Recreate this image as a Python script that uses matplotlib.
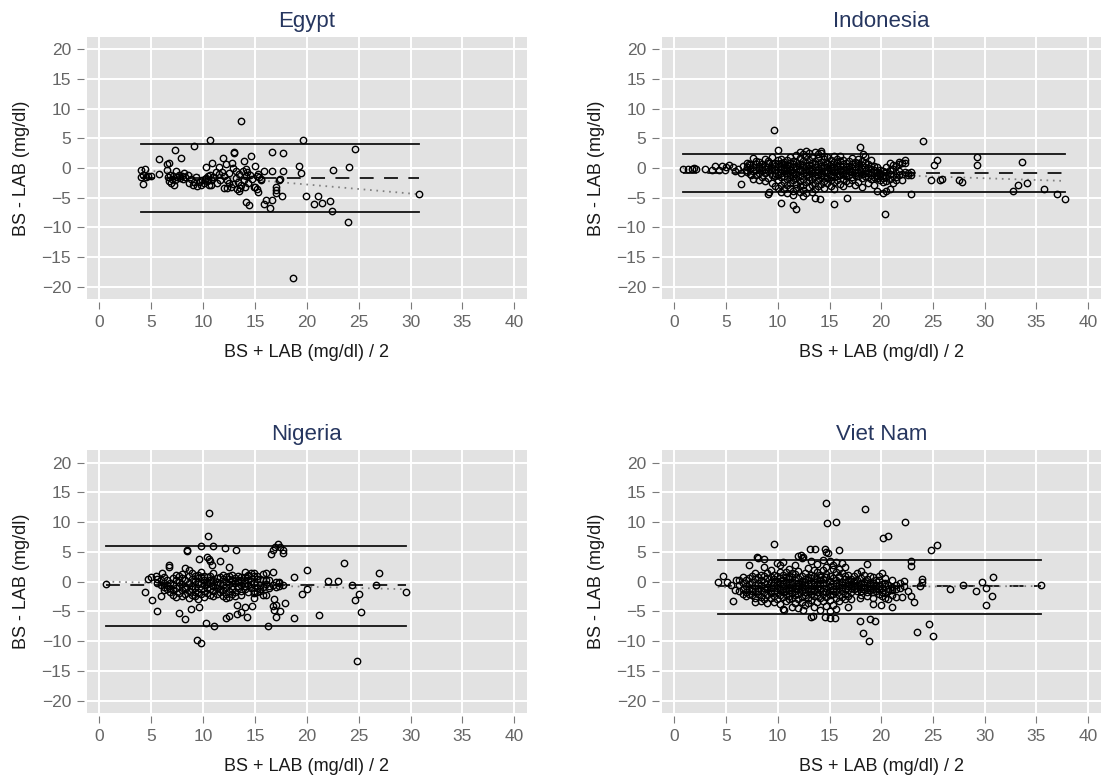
import numpy as np
import matplotlib.pyplot as plt

plt.rcParams['font.family'] = ['Liberation Sans', 'DejaVu Sans']
plt.rcParams['lines.scale_dashes'] = False

# Bland-Altman data: (mean of BS and LAB, BS - LAB)
egypt_pts = [
    (13.7, 7.9), (10.7, 4.8), (19.6, 4.8), (24.6, 3.2), (9.1, 3.7), (7.3, 3.0),
    (13.0, 2.75), (13.0, 2.5), (16.6, 2.75), (17.75, 2.6), (7.9, 1.7), (5.7, 1.5),
    (11.9, 1.6), (14.6, 2.1), (13.9, 1.1), (10.9, 0.9), (6.5, 0.6), (6.7, 0.8),
    (12.2, 0.7), (12.8, 0.8), (10.3, 0.1), (11.5, 0.2), (15.0, 0.3), (19.2, 0.4),
    (24.1, 0.2), (15.9, -0.45), (16.6, -0.5), (17.75, -0.5), (19.4, -0.8), (22.5, -0.3),
    (4.0, -0.35), (4.4, -0.2), (4.25, -2.7), (4.0, -1.45), (4.65, -1.35), (5.75, -1.0),
    (4.2, -1.2), (4.5, -1.6), (5.0, -1.3),
    (14.1, -5.7), (14.4, -6.2), (15.2, -3.6), (15.3, -4.0), (15.05, -3.26), (15.6, -1.9),
    (15.4, -1.57), (15.9, -6.1), (16.1, -5.4), (16.6, -5.4), (16.45, -6.7), (17.0, -3.26),
    (17.0, -4.2), (17.0, -3.7), (17.3, -2.1), (17.4, -1.9), (17.6, -4.8), (19.97, -4.66),
    (20.7, -6.07), (21.1, -4.72), (21.45, -5.96), (22.2, -5.56), (22.45, -7.2), (24.0, -9.1),
    (18.7, -18.6), (30.8, -4.44),
    (11.8, -0.6), (12.0, -1.35), (12.3, -2.0), (12.5, -2.6), (12.7, -3.15), (12.9, -2.7),
    (13.2, -1.75), (13.4, -2.3), (13.6, -3.4), (13.7, -2.9), (13.9, -2.0), (14.1, -1.35),
    (14.2, -0.6), (14.3, -2.6), (14.5, -1.2), (14.7, -1.9), (14.9, -3.15), (15.2, -1.35),
    (15.3, -1.0), (15.6, -2.0), (10.3, -1.75), (10.5, -2.0), (10.7, -1.2), (10.8, -2.9),
    (11.0, -1.6), (11.3, -2.5), (11.5, -1.0), (11.6, -2.0), (12.0, -3.3), (12.5, -0.9),
    (12.9, -0.05), (13.2, -0.45), (13.5, -1.0), (13.8, -0.45), (14.1, -0.2),
    (13.3, -3.6), (13.5, -3.9), (12.3, -3.3), (14.0, -3.2),
    (6.6, -1.6), (6.7, -2.2), (6.8, -1.2), (6.9, -2.5), (7.0, -1.8), (7.1, -1.3),
    (7.3, -2.0), (7.4, -0.5), (7.5, -1.5), (7.7, -1.1), (7.8, -1.7), (8.0, -1.3),
    (8.1, -1.9), (8.3, -1.5), (8.5, -1.2), (8.6, -2.6), (8.8, -1.8), (9.0, -2.9),
    (9.1, -2.3), (9.3, -1.6), (9.4, -3.0), (9.6, -2.4), (9.8, -2.9), (9.9, -2.0),
    (10.1, -2.6), (10.2, -1.8), (10.4, -2.2), (10.5, -1.3), (10.6, -2.8), (10.8, -2.1),
    (11.0, -1.5), (11.2, -0.7), (6.5, -0.3), (7.2, -2.8), (8.2, -0.9),
]

indonesia_sparse = [
    (9.6, 6.4), (24.0, 4.5), (10.0, 3.1), (17.9, 3.6), (18.2, 2.4), (29.3, 1.9),
    (29.3, 0.45), (33.6, 0.96), (25.1, 0.55), (25.4, 1.3), (24.8, -2.1), (25.7, -2.0),
    (25.9, -1.8), (27.5, -2.1), (27.8, -2.4), (32.7, -3.8), (33.2, -2.9), (34.1, -2.6),
    (35.7, -3.6), (37.0, -4.4), (37.8, -5.2), (20.4, -7.8), (10.35, -5.85), (11.5, -6.25),
    (11.8, -6.9), (13.6, -5.0), (14.1, -5.3), (15.4, -6.0), (16.7, -5.1), (22.9, -4.45),
    (9.1, -4.4), (9.2, -4.0), (6.44, -2.7),
    (0.8, -0.15), (1.3, -0.1), (1.7, -0.1), (1.9, -0.05), (2.1, -0.1), (3.0, -0.1),
    (3.6, -0.4), (3.9, 0.4), (4.3, -0.4), (4.6, 0.4), (4.9, -0.4), (5.0, 0.1),
    (5.3, 0.5), (5.7, 0.2), (5.9, -0.5), (6.2, -0.1), (6.4, -0.8), (6.6, 0.3),
    (6.9, -0.4), (7.2, 0.6), (7.4, -1.2),
]
# dense part of the Indonesia cloud: x -> list of y
indonesia_cloud = {
    7.0: [0.2, -0.6, 0.9], 7.3: [-0.2, 0.5, -1.0], 7.6: [0.1, -0.5, 1.6, -1.8],
    7.9: [0.6, -0.3, -1.2, 1.2], 8.2: [0.0, -0.8, 1.0, -2.0, 0.4],
    8.5: [-0.4, 0.7, -1.5, 0.2], 8.8: [0.3, -0.9, 1.5, -2.2, -0.2],
    9.1: [-0.5, 0.8, -1.7, 0.1, 1.2], 9.4: [0.0, -1.1, 0.6, -2.6, -0.4, 1.9],
    9.7: [-0.3, 0.9, -1.4, -3.0, 0.3, -0.8], 10.0: [0.1, -0.7, 1.3, -2.1, -1.2, 0.6, -3.4],
    10.3: [-0.2, 0.8, -1.6, -0.9, -2.8, 0.4, 1.5, -4.0],
    10.6: [0.2, -0.5, -1.3, -2.3, 1.0, -3.6, 0.6, -0.1],
    10.9: [-0.8, 0.5, -1.9, 1.4, -0.3, -2.9, -4.2, 0.0],
    11.2: [0.3, -1.1, -0.4, -2.5, 0.9, 1.8, -3.3, -1.6],
    11.5: [-0.6, 0.1, -1.4, 1.2, -2.0, -3.8, 0.6, -0.9, -4.6],
    11.8: [0.4, -0.2, -1.0, -2.7, 2.2, 1.0, -1.7, -3.4],
    12.1: [-0.5, 0.7, -1.3, 1.6, -2.2, -0.1, -4.1, 2.7, -3.0],
    12.4: [0.1, -0.8, 1.1, -1.8, -2.9, 0.5, 2.4, -3.7, -4.8],
    12.7: [-0.3, 0.9, -1.2, 2.0, -2.4, -0.7, 2.8, -4.3, 0.3],
    13.0: [0.5, -0.4, -1.5, 1.4, -2.1, -3.2, 0.0, 2.5],
    13.3: [-0.1, -0.9, 0.8, -1.9, 1.9, -2.8, -0.5, -4.0],
    13.6: [0.2, -0.6, 1.2, -1.4, 2.7, -2.5, 0.6, -3.5],
    13.9: [-0.3, 0.7, -1.1, 1.7, -2.0, -0.7, 2.3, -3.0],
    14.2: [0.0, -0.8, 1.0, -1.6, 2.6, -2.7, 0.4, -1.2, 2.8],
    14.5: [-0.5, 0.5, -1.3, 1.5, -2.2, 0.1, -3.3, 2.1],
    14.8: [0.2, -0.9, 0.9, -1.7, -2.6, 1.8, -0.3],
    15.1: [-0.4, 0.6, -1.1, -2.0, 1.3, -3.0, 0.0, -1.5],
    15.4: [0.1, -0.7, 1.0, -1.6, -2.4, 2.0, -3.6, -0.3],
    15.7: [-0.2, 0.8, -1.3, 0.3, -2.1, 1.5, -0.8],
    16.0: [0.4, -0.5, -1.2, 1.1, -2.7, 2.0, -0.1],
    16.3: [-0.3, 0.6, -1.0, -1.8, 1.4, -0.6, -3.0],
    16.6: [0.1, -0.8, 0.9, -2.2, -1.4, -0.3], 16.9: [-0.5, 0.4, -1.1, 1.2, -2.6, -0.1],
    17.2: [0.0, -0.7, 0.7, -1.5, -2.0, 1.6], 17.5: [-0.4, 0.3, -1.2, -0.8, 1.0, -2.9],
    17.8: [0.2, -0.6, -1.4, 0.8, -2.3, 1.5], 18.1: [-0.2, -1.0, 0.5, -1.7, 1.1, -3.2],
    18.4: [-0.5, 0.2, -1.3, -0.9, 0.9, 2.0], 18.7: [0.0, -0.8, -1.5, 0.6, -2.5],
    19.0: [-0.6, -1.2, 0.3, -0.2, -1.8, 1.3], 19.3: [-0.9, -0.4, -1.5, 0.4, -2.8],
    19.6: [-1.1, -0.6, -1.7, 0.1, -3.9, -1.4], 19.9: [-0.8, -1.3, -0.3, -2.0, -1.0],
    20.2: [-1.2, -0.5, -2.4, -4.2, -1.7], 20.5: [-0.7, -1.5, -2.2, -3.9, 0.2],
    20.8: [-1.0, -1.9, 0.9, -0.4, -3.6], 21.1: [-1.3, -0.2, -2.6, 0.5],
    21.4: [-0.8, -1.6, 0.3, -2.0], 21.7: [-0.5, 1.0, -1.2, 0.6], 22.0: [-1.0, -2.0, 0.8],
    22.3: [-0.6, 1.3, 0.9], 22.6: [-0.9, -1.2], 22.9: [-1.1, -0.7],
}

nigeria_sparse = [
    (10.6, 11.5), (10.5, 7.6), (9.8, 6.0), (11.0, 6.0), (12.1, 5.7), (13.2, 5.4),
    (8.4, 5.4), (8.4, 5.1), (17.2, 6.4), (16.95, 5.9), (17.4, 5.9), (17.7, 5.4),
    (17.75, 4.9), (16.5, 4.6), (16.7, 5.3), (10.4, 4.2), (10.55, 3.8), (10.7, 3.4),
    (10.9, 2.75), (9.57, 3.8), (11.6, 3.4), (12.5, 2.5), (6.73, 2.8), (6.73, 2.5),
    (23.6, 3.2), (27.0, 1.5), (20.0, 1.9), (18.8, 0.7), (22.0, 0.14), (23.0, 0.14),
    (0.65, -0.36), (4.35, -1.76), (5.05, -3.1), (5.53, -4.9), (6.0, 1.5), (5.0, 0.7),
    (4.7, 0.4), (5.47, 0.87), (7.72, -5.34), (8.27, -6.3), (8.81, -4.6), (9.64, -4.33),
    (10.26, -6.96), (11.06, -7.4), (9.39, -9.9), (9.78, -10.3), (12.16, -6.06), (12.5, -5.84),
    (13.28, -3.9), (13.25, -5.45), (13.7, -5.06), (14.0, -4.33), (14.2, -6.0), (14.7, -4.05),
    (14.95, -2.77), (16.3, -7.46), (16.8, -2.9), (17.0, -3.9), (16.8, -4.8), (17.0, -5.9),
    (17.4, -4.9), (17.85, -3.67), (16.7, -4.05), (18.8, -6.1), (19.55, -2.0), (20.0, -1.26),
    (21.2, -5.56), (24.4, -0.64), (24.6, -3.05), (25.0, -2.0), (25.25, -5.06), (24.8, -13.4),
    (26.65, -0.6), (29.6, -1.8),
]
nigeria_cloud = {
    5.6: [-0.3, 0.5], 5.9: [-0.6, -2.4, 0.2], 6.2: [-0.9, -0.3, 0.8, -1.4],
    6.5: [-0.6, -1.2, 0.3], 6.8: [-1.0, -0.2, -1.8], 7.1: [-0.5, 0.6, -1.4, -2.2],
    7.4: [-1.1, 0.2, -2.6, 1.2], 7.7: [-0.8, -1.9, 0.0, 1.0], 8.0: [-1.4, -0.4, -2.4, 0.6, 1.3],
    8.3: [-0.9, 0.3, -2.0, -1.3, 2.3], 8.6: [-0.2, -1.6, 0.9, -2.7, 2.0],
    8.9: [-0.7, 0.5, -2.3, 1.4, -1.2], 9.2: [-1.0, 0.1, -2.5, 0.9, -1.7],
    9.5: [-0.4, 0.6, -1.8, 1.2, -2.9, 0.0], 9.8: [-1.2, -0.2, 0.8, -2.1, 1.6],
    10.1: [-0.6, 0.3, -1.5, 1.0, -2.6], 10.4: [-1.0, 0.0, -1.9, 0.7, -0.4],
    10.7: [-0.3, 0.9, -1.3, -2.2, 0.3], 11.0: [-0.8, 0.2, -1.6, 1.5, -2.5],
    11.3: [-0.5, 0.6, -1.1, -2.0, 0.0], 11.6: [-1.2, -0.2, 0.8, -1.7],
    11.9: [-0.6, 0.4, -1.4, 1.1, -2.4], 12.2: [-0.9, 0.0, -2.0, 0.7, -2.7],
    12.5: [-0.4, 0.5, -1.5, -2.6, 1.0], 12.8: [-0.7, 0.2, -1.2, 1.2, -2.0],
    13.1: [-0.3, 0.6, -1.7, -2.4, 0.1], 13.4: [-0.8, 0.3, -1.0, 0.0, 1.0],
    13.7: [-0.5, 0.8, -1.6, 0.3, -2.2], 14.0: [-0.2, 0.7, -1.3, 1.6, -0.8],
    14.3: [-0.6, 0.3, -1.8, 1.2, 0.9], 14.6: [-1.0, 0.1, 1.4, -0.4],
    14.9: [-0.3, 0.9, -1.5, -1.9, 1.5], 15.2: [-1.1, 0.4, -1.8, 1.0],
    15.5: [-0.5, -1.6, 0.5, -1.3], 15.8: [-0.9, 0.2, 1.3, -2.3], 16.1: [-0.4, 0.3, -2.3, 1.4],
    16.4: [-0.7, -1.0, 0.2], 16.7: [1.6, -0.6], 17.0: [-0.9, 0.0], 17.3: [-0.3, -0.7, -0.1],
    17.7: [-0.6],
}

vietnam_sparse = [
    (14.7, 13.3), (18.4, 12.15), (14.74, 9.8), (15.6, 10.0), (22.3, 10.1), (20.2, 7.3),
    (20.7, 7.6), (24.8, 5.4), (25.4, 6.2), (9.6, 6.3), (13.1, 5.45), (13.6, 5.5),
    (14.6, 5.45), (14.7, 5.0), (14.9, 4.9), (15.9, 5.4), (8.0, 4.16), (8.7, 3.83),
    (12.2, 4.5), (12.4, 4.16), (22.9, 3.4), (22.9, 2.65), (18.65, 2.9), (30.8, 0.7),
    (27.9, -0.5), (26.6, -1.25), (29.7, -0.1), (29.2, -1.5), (30.1, -1.15), (30.7, -2.4),
    (30.1, -3.9), (35.4, -0.6), (23.9, 0.4), (23.9, 0.0), (23.7, -0.7), (22.9, -2.4),
    (23.2, -3.4), (17.95, -6.7), (18.2, -8.6), (18.95, -6.3), (19.4, -6.7), (18.8, -10.0),
    (23.5, -8.5), (24.6, -7.2), (25.0, -9.1), (22.0, -2.65), (21.0, -4.2), (14.6, -6.0),
    (15.0, -6.1), (15.5, -6.1), (13.4, -5.7), (10.6, -4.7), (12.4, -4.8), (5.7, -3.2),
    (4.2, 0.0), (4.7, 0.9), (5.1, 0.0), (6.0, 0.3), (16.8, -4.3), (17.95, -2.8),
    (19.2, -3.8), (20.0, -4.0), (5.5, -0.6), (5.9, -1.4),
]
vietnam_cloud = {
    6.3: [-0.6, -1.6, 0.3], 6.6: [-1.2, -0.3, -2.1, 0.8], 6.9: [-0.8, -1.7, 0.2, -2.5],
    7.2: [-0.4, -1.3, 0.6, -2.0, 2.8], 7.5: [-1.0, -0.1, -2.3, 1.0, -1.6],
    7.8: [-0.6, -1.5, 0.4, -2.8, 1.5, -3.5], 8.1: [-1.1, -0.2, -2.0, 0.8, -1.5, 4.0],
    8.4: [-0.5, -1.4, 0.3, -2.6, 1.2, -3.2], 8.7: [-1.0, 0.0, -1.8, -2.9, 0.9, 2.5],
    9.0: [-0.4, -1.3, 0.6, -2.2, -3.6, 1.5, -0.9],
    9.3: [-1.1, -0.1, -1.9, 0.8, -2.7, 2.0, -1.5],
    9.6: [-0.6, -1.5, 0.4, -2.4, 1.2, -3.4, -0.2],
    9.9: [-1.0, 0.1, -1.8, 0.9, -2.9, -0.5, 3.2],
    10.2: [-0.3, -1.4, 0.6, -2.3, -1.0, 1.6, -3.8, 2.8],
    10.5: [-0.8, 0.2, -1.7, -2.6, 1.1, -0.4, -4.6, 3.3],
    10.8: [-1.2, -0.2, 0.7, -2.1, -1.6, -3.3, 1.7, 0.0],
    11.1: [-0.5, -1.4, 0.4, -2.4, 1.0, -0.9, -3.0, 2.2],
    11.4: [-1.0, 0.0, -1.9, 0.8, -2.8, -0.4, -4.2, 1.5],
    11.7: [-0.7, -1.6, 0.3, -2.3, 1.3, -3.6, -1.1, 2.8],
    12.0: [-0.2, -1.2, 0.6, -2.0, -0.7, -2.9, 1.8, 4.3, -4.5],
    12.3: [-0.9, 0.1, -1.5, -2.6, 1.0, -0.4, -3.4, 3.9],
    12.6: [-0.5, -1.3, 0.5, -2.2, -1.8, 1.4, -4.0, -0.1],
    12.9: [-1.0, 0.2, -1.6, -2.7, 0.8, -0.4, 2.3, -3.6],
    13.2: [-0.3, -1.2, 0.6, -2.0, -1.6, 1.2, -3.1, 3.5, -5.9],
    13.5: [-0.8, 0.0, -1.5, -2.5, 0.9, -0.4, -4.3, 2.0],
    13.8: [-0.4, -1.1, 0.4, -2.2, -1.7, 1.6, -3.4, 2.9],
    14.1: [-1.0, 0.2, -1.4, -2.8, 0.7, -0.2, -4.7, 1.2],
    14.4: [-0.6, -1.5, 0.5, -2.1, -3.3, 1.9, -0.2, 3.7],
    14.7: [-0.2, -1.0, 0.8, -1.8, -2.6, 1.3, -4.1, 2.4],
    15.0: [-0.7, 0.1, -1.4, -2.3, 3.5, -3.1, 0.9, -5.0],
    15.3: [-0.3, -1.2, 0.6, -2.0, -3.9, 2.1, -1.6, 2.8],
    15.6: [-0.8, 0.3, -1.5, -0.2, -2.7, 1.6, -4.6, 3.3],
    15.9: [-0.4, -1.1, 0.8, -2.2, 1.0, -3.2, 2.2],
    16.2: [-0.9, 0.0, -1.6, -0.5, 1.5, -2.6, 3.1],
    16.5: [-0.3, -1.2, 0.5, -2.0, 0.9, -3.0, 2.5],
    16.8: [-0.7, 0.2, -1.4, -0.1, -2.4, 1.2], 17.1: [-0.4, -1.0, 0.4, -1.8, -0.7, -2.9],
    17.4: [-0.8, 0.1, -1.3, -0.3, 1.0], 17.7: [-0.5, -1.1, 0.3, -1.6, 1.4],
    18.0: [-0.9, -0.2, -1.5, 0.6, -2.2, 1.8], 18.3: [-0.6, -1.3, 0.0, -0.9, 1.2],
    18.6: [-0.3, -1.0, -1.7, 0.4, -2.5], 18.9: [-0.8, -1.4, -0.4, -1.1, 0.9],
    19.2: [-0.6, -1.2, -0.2, -1.8, -2.7, 0.7], 19.5: [-1.0, -0.5, -1.5, 0.2, -0.8],
    19.8: [-0.7, -1.3, -2.1, 1.0, 0.3], 20.1: [-1.1, -0.4, -2.4, 1.4, -1.7],
    20.4: [-0.8, -1.9, -0.2, -2.8, 0.6], 20.7: [-1.2, -0.5, -3.0, -1.6],
    21.0: [-0.9, -2.3, 0.2, -1.4], 21.4: [-0.6, -1.2, -2.6], 21.8: [-0.3, -1.0],
    22.2: [-0.8, 0.1], 22.6: [-1.5],
}

# upper limit, mean difference, lower limit, regression line (y at min x, y at max x)
countries = ['Egypt', 'Indonesia', 'Nigeria', 'Viet Nam']
upper_loa = [4.0, 2.35, 6.05, 3.72]
mean_diff = [-1.65, -0.8, -0.64, -0.81]
lower_loa = [-7.4, -4.0, -7.4, -5.45]
regression = [(-0.35, -4.43), (0.0, -2.19), (0.0, -1.28), (-0.95, -0.75)]


def cloud_to_pts(cloud):
    return [(x, y) for x, ys in cloud.items() for y in ys]


all_pts = [
    egypt_pts,
    indonesia_sparse + cloud_to_pts(indonesia_cloud),
    nigeria_sparse + cloud_to_pts(nigeria_cloud),
    vietnam_sparse + cloud_to_pts(vietnam_cloud),
]

fig = plt.figure(figsize=(11.05, 7.75), dpi=100)
positions = [
    [0.0785, 0.6142, 0.3985, 0.3381],
    [0.5988, 0.6142, 0.3976, 0.3381],
    [0.0785, 0.0800, 0.3985, 0.3390],
    [0.5988, 0.0800, 0.3976, 0.3390],
]

for i, name in enumerate(countries):
    ax = fig.add_axes(positions[i])
    pts = np.array(all_pts[i])
    x, y = pts[:, 0], pts[:, 1]
    x0, x1 = x.min(), x.max()

    ax.set_facecolor('#e2e2e2')
    ax.set_axisbelow(True)
    ax.grid(color='white', lw=1.4)

    ax.plot([x0, x1], [upper_loa[i]] * 2, color='#111111', lw=1.3)
    ax.plot([x0, x1], [lower_loa[i]] * 2, color='#111111', lw=1.3)
    ax.plot([x0, x1], [mean_diff[i]] * 2, color='#111111', lw=1.3, dashes=(10, 7.5))
    ax.plot([x0, x1], regression[i], color='#808080', lw=1.3, dashes=(1.2, 3.4))

    ax.plot(x, y, 'o', mfc='none', mec='black', ms=4.6, mew=1.0)

    ax.set_xlim(-1.22, 41.24)
    ax.set_ylim(-22.1, 22.1)
    ax.set_xticks(np.arange(0, 41, 5))
    ax.set_yticks(np.arange(-20, 21, 5))

    for s in ['top', 'right']:
        ax.spines[s].set_visible(False)
    for s in ['left', 'bottom']:
        ax.spines[s].set_position(('outward', 2.2))
        ax.spines[s].set_color('none')
    ax.tick_params(direction='out', length=5, width=0.8, color='#7a7a7a',
                   labelcolor='#666666', labelsize=12.5, pad=4)

    ax.set_title(name, fontsize=16, color='#26365f', pad=7.5)
    ax.set_xlabel('BS + LAB (mg/dl) / 2', fontsize=13, color='#1a1a1a', labelpad=10.5)
    ax.set_ylabel('BS - LAB (mg/dl)', fontsize=13, color='#1a1a1a', labelpad=8.5)

plt.savefig('out.png', dpi=100)
